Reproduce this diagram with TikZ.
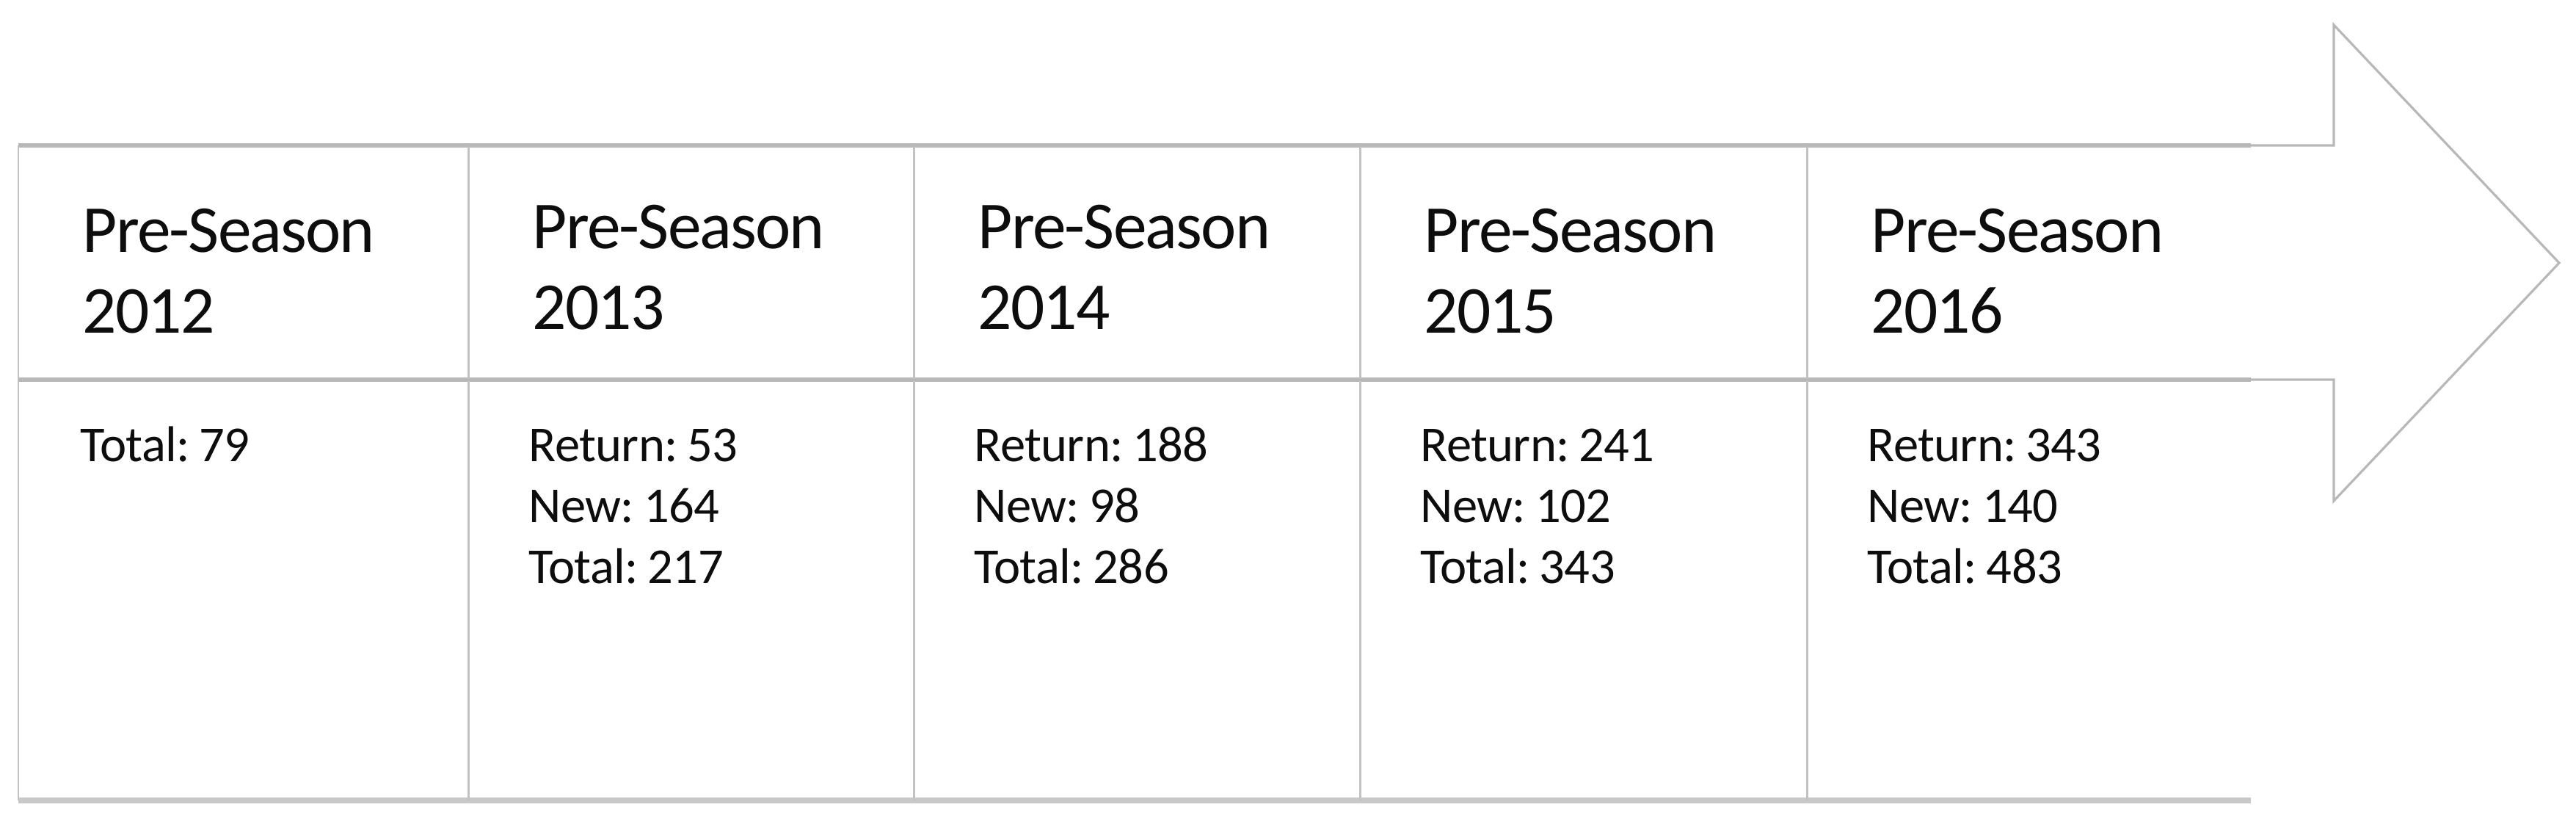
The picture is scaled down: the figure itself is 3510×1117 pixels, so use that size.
\documentclass[tikz,border=0pt]{standalone}
\usepackage{fontspec}
\setmainfont{Carlito}
\newfontfamily\hdrfont{Carlito}[LetterSpace=-2.0, WordSpace=0.7]
\newfontfamily\bdyfont{Carlito}[LetterSpace=-1.0, WordSpace=0.55]
\definecolor{vline}{HTML}{C2C2C2}
\definecolor{hline}{HTML}{B8B8B8}
\definecolor{bline}{HTML}{C8C8C8}
\definecolor{aline}{HTML}{B8B8B8}
\definecolor{txt}{HTML}{0D0D0D}
\tikzset{
  hdr/.style={anchor=base west, inner sep=0pt, text=txt, font=\hdrfont\fontsize{26}{31.3}\selectfont},
  bdy/.style={anchor=base west, inner sep=0pt, text=txt, font=\bdyfont\fontsize{19.5}{23.6}\selectfont},
  vrule/.style={draw=vline, line width=0.85pt},
  hrule/.style={draw=hline, line width=1.6pt},
  brule/.style={draw=bline, line width=2.2pt},
  arrowline/.style={draw=aline, line width=0.9pt, line join=miter}
}
\begin{document}
\begin{tikzpicture}[x=0.01cm, y=-0.01cm]
\useasboundingbox (0,0) rectangle (3510,1117);
% column coordinates
\foreach \n/\x in {0/25,1/638,2/1245,3/1853,4/2462,5/3067}{
  \coordinate (t\n) at (\x,198);
  \coordinate (m\n) at (\x,517);
  \coordinate (b\n) at (\x,1090);
}
% table lines
\draw[hrule] (t0) -- (t5);
\draw[hrule] (m0) -- (m5);
\draw[brule] (b0) -- (b5);
\foreach \n in {0,...,4}{
  \draw[vrule] (t\n) -- (b\n);
}
% arrow outline
\coordinate (a1) at (25,198);
\coordinate (a2) at (3180,198);
\coordinate (a3) at (3180,34);
\coordinate (a4) at (3487,358);
\coordinate (a5) at (3180,682);
\coordinate (a6) at (3180,517);
\coordinate (a7) at (25,517);
\draw[arrowline] (a1) -- (a2) -- (a3) -- (a4) -- (a5) -- (a6) -- (a7);
% headers
\foreach \n/\x/\y/\yr in {1/25/343/2012, 2/638/338/2013, 3/1245/338/2014, 4/1853/343/2015, 5/2462/343/2016}{
  \node[hdr] (h\n a) at (\x+87,\y) {Pre-Season};
  \node[hdr] (h\n b) at (\x+87,\y+110) {\yr};
}
% bodies
\node[bdy] (c1c) at (25+84,628) {Total: 79};
\foreach \n/\x/\r/\w/\t in {2/638/53/164/217, 3/1245/188/98/286, 4/1853/241/102/343, 5/2462/343/140/483}{
  \node[bdy] (c\n a) at (\x+82,628) {Return: \r};
  \node[bdy] (c\n b) at (\x+82,711) {New: \w};
  \node[bdy] (c\n c) at (\x+82,794) {Total: \t};
}
\end{tikzpicture}
\end{document}
